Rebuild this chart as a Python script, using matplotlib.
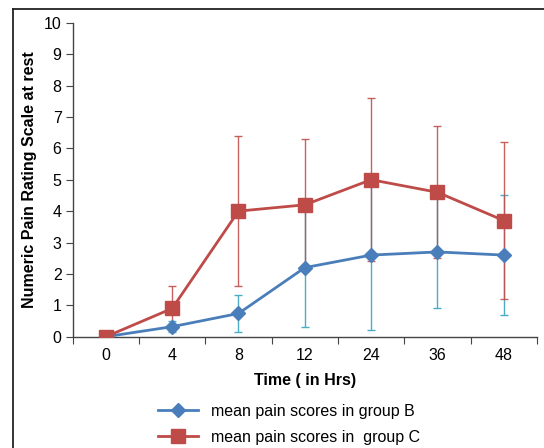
import matplotlib
matplotlib.use("Agg")
import matplotlib.pyplot as plt
from matplotlib.lines import Line2D

plt.rcParams['font.family'] = ['Liberation Sans', 'DejaVu Sans']

times = ['0', '4', '8', '12', '24', '36', '48']
group_b = [0, 0.32, 0.74, 2.2, 2.6, 2.7, 2.6]
group_b_err = [0, 0.18, 0.6, 1.9, 2.4, 1.8, 1.9]
group_c = [0, 0.9, 4.0, 4.2, 5.0, 4.6, 3.7]
group_c_err = [0, 0.7, 2.4, 2.1, 2.6, 2.1, 2.5]

blue = '#4a7ebb'
red = '#be4b48'
blue_err = '#4bacc6'
red_err = '#c0504d'

fig = plt.figure(figsize=(5.44, 4.48), dpi=100)
ax = fig.add_axes([0.1336, 0.2484, 0.8534, 0.7009])

x = list(range(len(times)))

ax.errorbar(x, group_b, yerr=group_b_err, fmt='none', ecolor=blue_err,
            elinewidth=1, capsize=3, capthick=1, zorder=2)
ax.errorbar(x, group_c, yerr=group_c_err, fmt='none', ecolor=red_err,
            elinewidth=1, capsize=3, capthick=1, alpha=0.9, zorder=2)
ax.plot(x, group_b, color=blue, lw=2, marker='D', ms=7.5, zorder=3,
        label='mean pain scores in group B')
ax.plot(x, group_c, color=red, lw=2, marker='s', ms=10, zorder=4,
        label='mean pain scores in  group C')

ax.set_ylim(0, 10)
ax.set_yticks(range(0, 11))
ax.set_xlim(-0.5, len(times) - 0.5)
ax.set_xticks([i - 0.5 for i in range(len(times) + 1)])
ax.set_xticklabels([])
ax.set_xticks(x, minor=True)
ax.set_xticklabels(times, minor=True)
ax.tick_params(axis='x', which='minor', length=0, pad=8, labelsize=11.5)
ax.tick_params(axis='x', which='major', length=5, color='#444444')
ax.tick_params(axis='y', length=5, color='#444444', labelsize=11.5, pad=3)

for s in ['top', 'right']:
    ax.spines[s].set_visible(False)
for s in ['left', 'bottom']:
    ax.spines[s].set_color('#444444')
    ax.spines[s].set_linewidth(1)

ax.set_xlabel('Time ( in Hrs)', fontweight='bold', fontsize=11.5, labelpad=7)
ax.set_ylabel('Numeric Pain Rating Scale at rest', fontweight='bold',
              fontsize=11.5, labelpad=5)

ax.legend(loc='center', bbox_to_anchor=(0.532, 0.053),
          bbox_transform=fig.transFigure, frameon=False, fontsize=11.5,
          handlelength=2.5, labelspacing=0.7, handletextpad=0.8)

# outer frame (cut off at right and bottom)
fig.add_artist(Line2D([0.0233, 0.0233], [-0.01, 1 - 9 / 448],
                      transform=fig.transFigure, color='#222222', lw=1.3))
fig.add_artist(Line2D([0.0233, 1.01], [1 - 9 / 448, 1 - 9 / 448],
                      transform=fig.transFigure, color='#222222', lw=1.3))

fig.savefig('out.png', dpi=100)
